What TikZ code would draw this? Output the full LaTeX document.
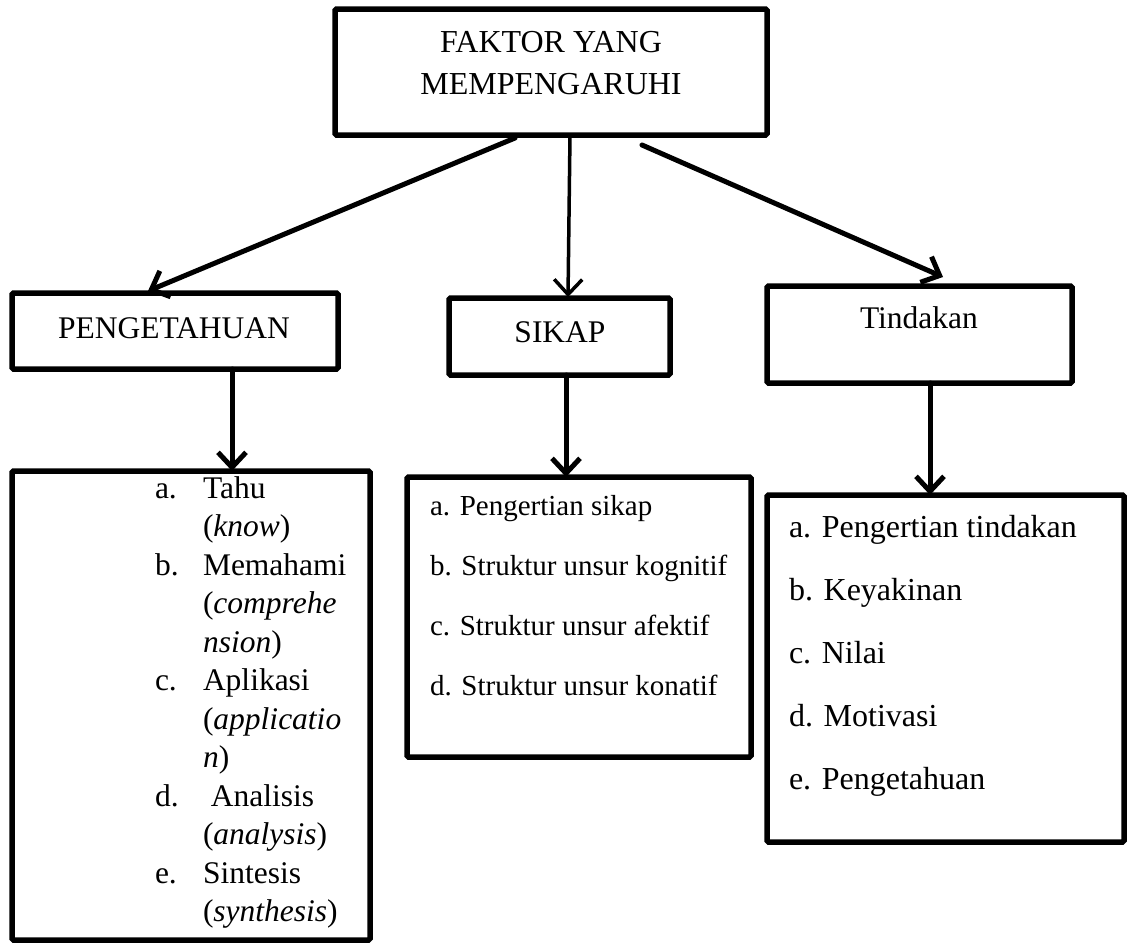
\documentclass[tikz,border=0pt]{standalone}
\usepackage{fontspec}
\setmainfont{Liberation Serif}
\usetikzlibrary{arrows.meta}
\begin{document}
\begin{tikzpicture}[x=1pt,y=-1pt,
  box/.style={draw=black, line width=5.5pt, rounded corners=1.5pt, inner sep=0pt, outer sep=0pt, fill=white},
  txt/.style={inner sep=0pt, outer sep=0pt, font=\fontsize{31.5}{38}\selectfont},
  bigtxt/.style={txt, font=\fontsize{32}{38}\selectfont},
  smalltxt/.style={txt, font=\fontsize{29}{35}\selectfont},
  arr/.style={-{Straight Barb[length=15pt,width=28pt]}, line width=5pt, line cap=round},
  thinarr/.style={arr, line width=3.5pt}
]
\useasboundingbox (0,0) rectangle (1127,943);
\fill[white] (0,0) rectangle (1127,943);

% boxes
\node[box, minimum width=432pt, minimum height=126pt] (top) at (551,72) {};
\node[box, minimum width=326pt, minimum height=76pt] (peng) at (175,331) {};
\node[box, minimum width=221pt, minimum height=77pt] (sikap) at (559.5,336.5) {};
\node[box, minimum width=305pt, minimum height=97pt] (tind) at (919.5,334.5) {};
\node[box, minimum width=358pt, minimum height=469pt] (l1) at (191,705.5) {};
\node[box, minimum width=344pt, minimum height=280pt] (l2) at (579,617) {};
\node[box, minimum width=357pt, minimum height=347pt] (l3) at (945.5,668.5) {};

% titles
\node[bigtxt, anchor=base] (t1) at (551,52) {FAKTOR YANG};
\node[bigtxt, anchor=base] (t2) at (551,94) {MEMPENGARUHI};
\node[txt, anchor=base] (tpeng) at (174,338) {PENGETAHUAN};
\node[txt, anchor=base] (tsikap) at (560,342) {SIKAP};
\node[txt, anchor=base] (ttind) at (919,328) {Tindakan};

% arrows
\draw[arr] ([xshift=-36pt,yshift=-3pt]top.south) -- ([xshift=-27pt,yshift=2pt]peng.north);
\draw[thinarr] ([xshift=19pt]top.south) -- ([xshift=8.5pt,yshift=1pt]sikap.north);
\draw[arr] ([xshift=91pt,yshift=-10pt]top.south) -- ([xshift=23.5pt,yshift=9pt]tind.north);
\draw[arr] ([xshift=57pt]peng.south) -- ([xshift=57pt]peng.south |- l1.north);
\draw[arr] ([xshift=6.5pt]sikap.south) -- ([xshift=6.5pt]sikap.south |- l2.north);
\draw[arr] ([xshift=10.5pt]tind.south) -- ([xshift=10.5pt]tind.south |- l3.north);

% left list
\foreach \k/\lab/\item in {0/a./Tahu, 1//(\textit{know}), 2/b./Memahami, 3//(\textit{comprehe}, 4//\textit{nsion}), 5/c./Aplikasi, 6//(\textit{applicatio}, 7//\textit{n}), 8/d./\ Analisis, 9//(\textit{analysis}), 10/e./Sintesis, 11//(\textit{synthesis})}{
  \node[txt, anchor=base west] (la\k) at (155,498+38.5*\k) {\lab};
  \node[txt, anchor=base west] (li\k) at (203,498+38.5*\k) {\item};
}

% middle list
\node[smalltxt, anchor=base west] (s1) at (430,515) {a. Pengertian sikap};
\node[smalltxt, anchor=base west] (s2) at (430,575) {b. Struktur unsur kognitif};
\node[smalltxt, anchor=base west] (s3) at (430,635) {c. Struktur unsur afektif};
\node[smalltxt, anchor=base west] (s4) at (430,695) {d. Struktur unsur konatif};

% right list
\node[bigtxt, anchor=base west] (r1) at (789,537) {a. Pengertian tindakan};
\node[bigtxt, anchor=base west] (r2) at (789,600) {b. Keyakinan};
\node[bigtxt, anchor=base west] (r3) at (789,663) {c. Nilai};
\node[bigtxt, anchor=base west] (r4) at (789,726) {d. Motivasi};
\node[bigtxt, anchor=base west] (r5) at (789,789) {e. Pengetahuan};
\end{tikzpicture}
\end{document}
